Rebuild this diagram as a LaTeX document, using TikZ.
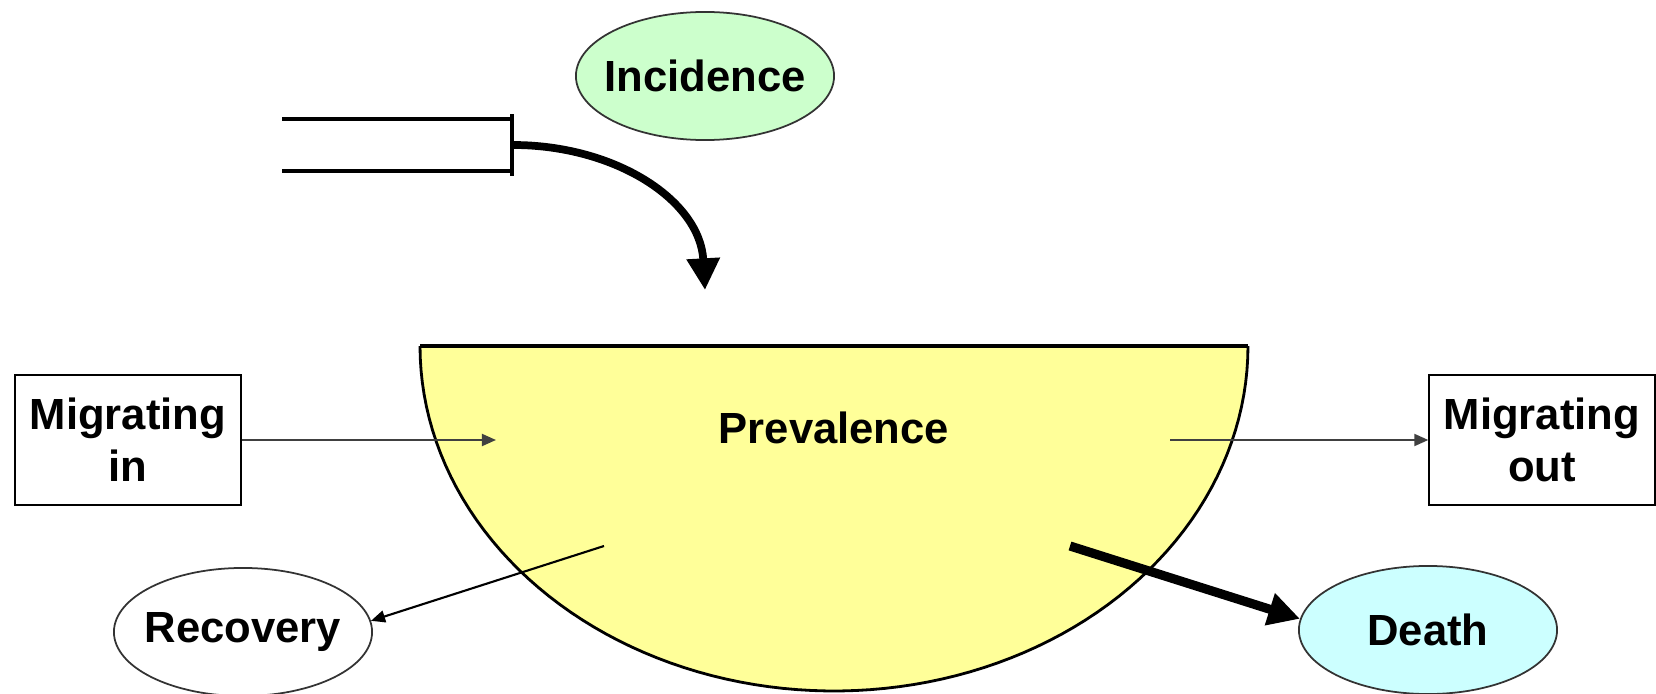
\documentclass[tikz,border=0pt]{standalone}
\usepackage{fontspec}
\setmainfont{Liberation Sans}
\usetikzlibrary{arrows.meta,shapes.geometric}
\definecolor{incg}{HTML}{CCFFCC}
\definecolor{deathc}{HTML}{CCFFFF}
\definecolor{prevy}{HTML}{FFFF99}
\begin{document}
\begin{tikzpicture}[x=0.01cm,y=-0.01cm,
  lbl/.style={font=\bfseries\fontsize{12.4}{14.8}\selectfont, align=center},
  oval/.style={ellipse, draw=black!80, line width=0.5pt, minimum width=2.58cm, minimum height=1.28cm, inner xsep=-5pt, inner ysep=0pt, lbl},
  box/.style={rectangle, draw=black, line width=0.6pt, minimum width=2.25cm, minimum height=1.30cm, inner sep=0pt, lbl},
  thinarrow/.style={draw=black!75, line width=0.6pt, -{Triangle[length=4pt,width=3.4pt]}},
  bigarrow/.style={draw=black, line width=2.2pt, -{Triangle[length=9pt,width=9pt]}},
  chan/.style={draw=black, line width=0.9pt}]
\useasboundingbox (0,0) rectangle (1656,694);
% prevalence bowl
\fill[prevy] plot[domain=0:180, samples=90] ({834+414*cos(\x)},{346+345*sin(\x)}) -- cycle;
\draw[line width=0.8pt] plot[domain=0:180, samples=90] ({834+414*cos(\x)},{346+345*sin(\x)});
\coordinate (pl) at (420,346);
\coordinate (pr) at (1248,346);
\draw[line width=1.3pt] (pl) -- (pr);
\node[lbl] (prev) at (834,428) {Prevalence};
% nodes
\node[oval, fill=incg] (inc) at (705,76) {Incidence};
\node[box] (min) at (128,440) {Migrating\\in};
\node[box] (mout) at (1542,440) {Migrating\\out};
\node[oval, fill=white] (rec) at (243,632) {Recovery};
\node[oval, fill=deathc] (dea) at (1428,630) {Death};
% channel
\coordinate (ch1) at (282,119);
\coordinate (ch2) at (512,119);
\coordinate (ch3) at (512,171);
\coordinate (ch4) at (282,171);
\coordinate (chv1) at (512,114);
\coordinate (chv2) at (512,176);
\draw[chan] (ch1) -- (ch2);
\draw[chan] (ch4) -- (ch3);
\draw[chan] (chv1) -- (chv2);
% incidence arrow
\coordinate (cs) at (513,145);
\coordinate (ce) at (705,290);
\draw[bigarrow] (cs) .. controls (615,145) and (700,200) .. (ce);
% migration arrows
\coordinate (minend) at (496,440);
\draw[thinarrow] (min.east) -- (minend);
\coordinate (moutst) at (1170,440);
\draw[thinarrow] (moutst) -- (mout.west);
% recovery
\coordinate (recst) at (604,546);
\draw[thinarrow, draw=black] (recst) -- (rec.5);
% death
\coordinate (deast) at (1070,546);
\draw[bigarrow, line width=2.6pt] (deast) -- (dea.175);
\end{tikzpicture}
\end{document}
